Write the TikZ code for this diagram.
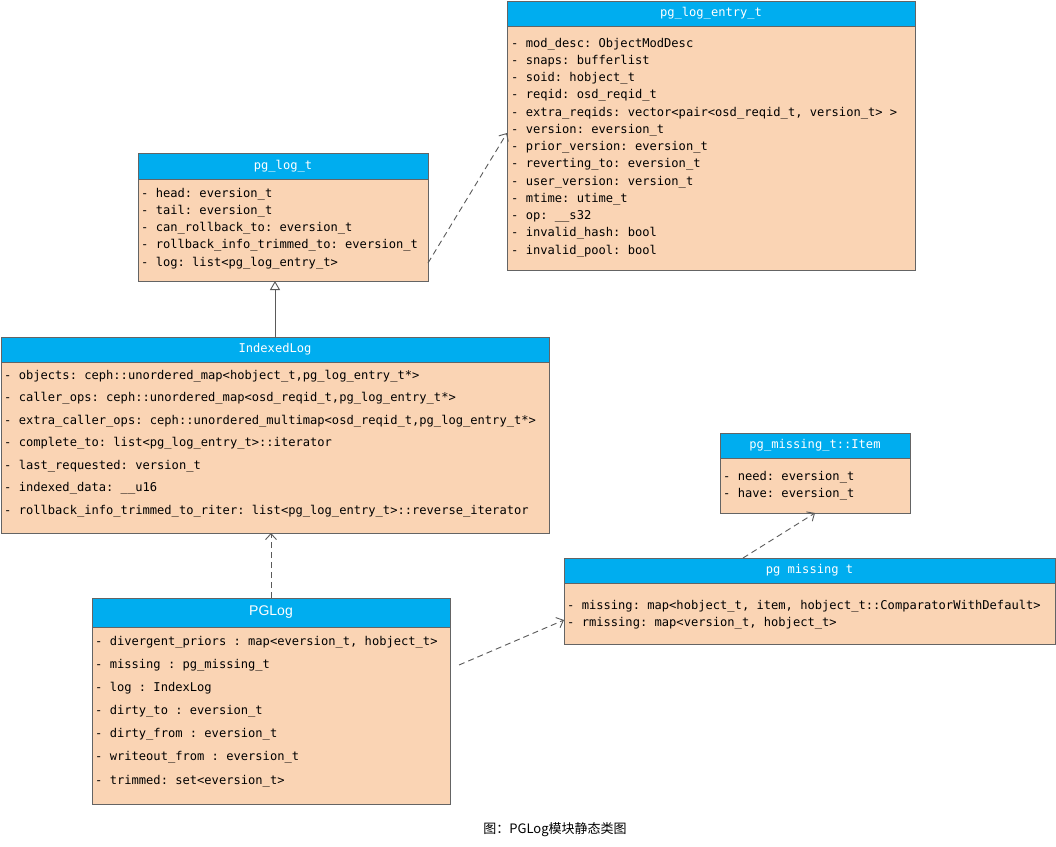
\documentclass[tikz,border=0pt]{standalone}
\usepackage{fontspec}
\setmainfont{Liberation Sans}
\setmonofont{DejaVu Sans Mono}
\newfontfamily\cjk{Noto Sans CJK SC}
\usetikzlibrary{positioning,arrows.meta}

\definecolor{headblue}{RGB}{0,173,239}
\definecolor{bodypeach}{RGB}{250,212,180}
\definecolor{linegray}{RGB}{100,100,100}
\definecolor{arrowgray}{RGB}{90,90,90}

\tikzset{
  classhead/.style={draw=linegray, fill=headblue, text=white, anchor=north west,
    inner sep=0pt, outer sep=0pt, line width=0.8pt,
    font=\ttfamily\fontsize{12.1}{14}\selectfont},
  classbody/.style={draw=linegray, fill=bodypeach, inner sep=0pt, outer sep=0pt,
    line width=0.8pt},
  attr/.style={anchor=base west, inner sep=0pt,
    font=\ttfamily\fontsize{12.1}{14}\selectfont},
  dep/.style={draw=arrowgray, line width=0.9pt, dash pattern=on 6pt off 4pt,
    -{Straight Barb[length=6pt,width=11pt]}},
  inherit/.style={draw=arrowgray, line width=0.9pt,
    -{Triangle[open,length=9pt,width=10pt,fill=white]}}
}

\begin{document}
\begin{tikzpicture}[x=1pt,y=-1pt]
  \useasboundingbox (0,0) rectangle (1056,846);

  % pg_log_entry_t
  \node[classhead, minimum width=408pt, minimum height=25pt] (ehead) at (507,1) {pg\_log\_entry\_t};
  \node[classbody, minimum width=408pt, minimum height=244pt, below=0pt of ehead] (ebody) {};
  \foreach \txt [count=\i from 0] in {
    {- mod\_desc: ObjectModDesc},
    {- snaps: bufferlist},
    {- soid: hobject\_t},
    {- reqid: osd\_reqid\_t},
    {- extra\_reqids: vector<pair<osd\_reqid\_t, version\_t> >},
    {- version: eversion\_t},
    {- prior\_version: eversion\_t},
    {- reverting\_to: eversion\_t},
    {- user\_version: version\_t},
    {- mtime: utime\_t},
    {- op: \_\_s32},
    {- invalid\_hash: bool},
    {- invalid\_pool: bool}}
    \node[attr] (e\i) at ([shift={(4,21+\i*17.25)}]ebody.north west) {\txt};

  % pg_log_t
  \node[classhead, minimum width=290pt, minimum height=26pt] (plhead) at (138,153) {pg\_log\_t};
  \node[classbody, minimum width=290pt, minimum height=102pt, below=0pt of plhead] (plbody) {};
  \foreach \txt [count=\i from 0] in {
    {- head: eversion\_t},
    {- tail: eversion\_t},
    {- can\_rollback\_to: eversion\_t},
    {- rollback\_info\_trimmed\_to: eversion\_t},
    {- log: list<pg\_log\_entry\_t>}}
    \node[attr] (pl\i) at ([shift={(3,18+\i*17.25)}]plbody.north west) {\txt};

  % IndexedLog
  \node[classhead, minimum width=548pt, minimum height=25pt] (ilhead) at (1,337) {IndexedLog};
  \node[classbody, minimum width=548pt, minimum height=171pt, below=0pt of ilhead] (ilbody) {};
  \foreach \txt [count=\i from 0] in {
    {- objects: ceph::unordered\_map<hobject\_t,pg\_log\_entry\_t*>},
    {- caller\_ops: ceph::unordered\_map<osd\_reqid\_t,pg\_log\_entry\_t*>},
    {- extra\_caller\_ops: ceph::unordered\_multimap<osd\_reqid\_t,pg\_log\_entry\_t*>},
    {- complete\_to: list<pg\_log\_entry\_t>::iterator},
    {- last\_requested: version\_t},
    {- indexed\_data: \_\_u16},
    {- rollback\_info\_trimmed\_to\_riter: list<pg\_log\_entry\_t>::reverse\_iterator}}
    \node[attr] (il\i) at ([shift={(3,17+\i*22.5)}]ilbody.north west) {\txt};

  % pg_missing_t::Item
  \node[classhead, minimum width=190pt, minimum height=25pt] (ithead) at (720,433) {pg\_missing\_t::Item};
  \node[classbody, minimum width=190pt, minimum height=55pt, below=0pt of ithead] (itbody) {};
  \foreach \txt [count=\i from 0] in {
    {- need: eversion\_t},
    {- have: eversion\_t}}
    \node[attr] (it\i) at ([shift={(3,22+\i*17)}]itbody.north west) {\txt};

  % pg_missing_t
  \node[classhead, minimum width=491pt, minimum height=25pt] (pmhead) at (564,558) {pg missing t};
  \node[classbody, minimum width=491pt, minimum height=61pt, below=0pt of pmhead] (pmbody) {};
  \foreach \txt [count=\i from 0] in {
    {- missing: map<hobject\_t, item, hobject\_t::ComparatorWithDefault>},
    {- rmissing: map<version\_t, hobject\_t>}}
    \node[attr] (pm\i) at ([shift={(3,26+\i*17)}]pmbody.north west) {\txt};

  % PGLog
  \node[classhead, minimum width=358pt, minimum height=29pt,
    font=\fontsize{14}{16}\selectfont] (pghead) at (92,598) {PGLog};
  \node[classbody, minimum width=358pt, minimum height=177pt, below=0pt of pghead] (pgbody) {};
  \foreach \txt [count=\i from 0] in {
    {- divergent\_priors : map<eversion\_t, hobject\_t>},
    {- missing : pg\_missing\_t},
    {- log : IndexLog},
    {- dirty\_to : eversion\_t},
    {- dirty\_from : eversion\_t},
    {- writeout\_from : eversion\_t},
    {- trimmed: set<eversion\_t>}}
    \node[attr] (pg\i) at ([shift={(3,18+\i*23.17)}]pgbody.north west) {\txt};

  % relations
  \draw[inherit] (ilhead.north) -- (ilhead.north |- plbody.south);
  \draw[dep] ([yshift=18pt]plbody.south east) -- ([yshift=-107pt]ebody.north west);
  \draw[dep] (pghead.north) -- (pghead.north |- ilbody.south);
  \coordinate (pgout) at (459,665);
  \draw[dep] (pgout) -- ([yshift=-37pt]pmbody.north west);
  \draw[dep] ([xshift=-66.5pt]pmhead.north) -- (itbody.south);

  % caption
  \node[font=\cjk\fontsize{13}{15}\selectfont] (caption) at (555,830) {图：PGLog模块静态类图};
\end{tikzpicture}
\end{document}
